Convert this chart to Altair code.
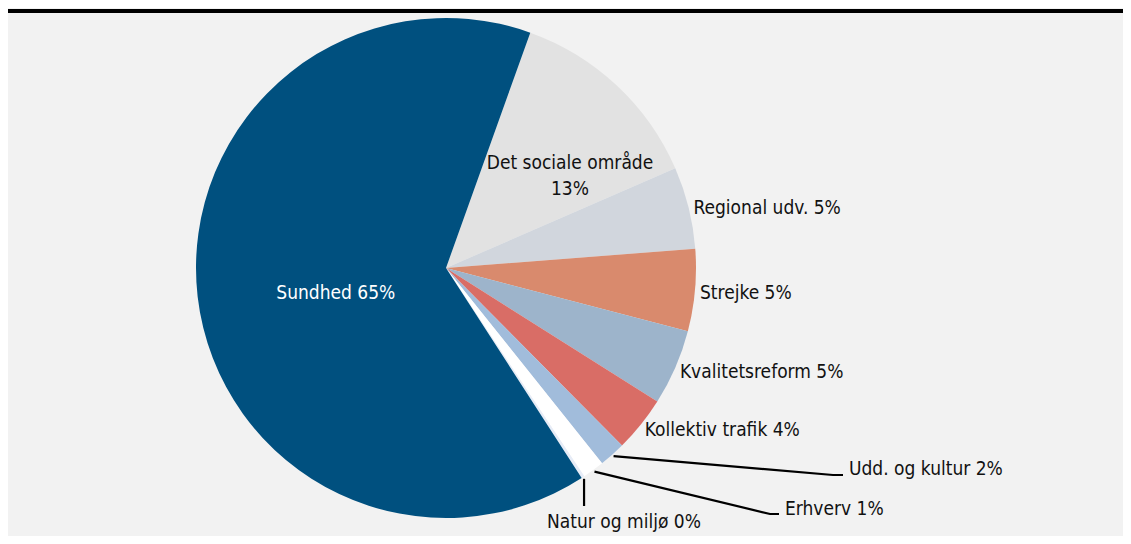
import math
import altair as alt
import pandas as pd

# ---- data ----
names = ["Det sociale område", "Regional udv.", "Strejke", "Kvalitetsreform",
         "Kollektiv trafik", "Udd. og kultur", "Erhverv", "Natur og miljø", "Sundhed"]
shares = [13.0, 5.3, 5.3, 4.9, 3.6, 1.7, 1.4, 0.2, 64.6]
colors = ["#E2E2E2", "#D1D6DD", "#D98A6D", "#9DB4CB", "#D96D66",
          "#A1BCDB", "#FFFFFF", "#E6ECF7", "#00507F"]

# ---- layout ----
W, H = 1115, 528
CX, CY, R = 438, 260, 250
START = math.radians(19.7)
FONT = "DejaVu Sans Condensed, Liberation Sans, sans-serif"
FS = 19
TXT = "#111111"

inner_dark = ["Det sociale område"]
inner_light = ["Sundhed"]
outer = ["Regional udv.", "Strejke", "Kvalitetsreform", "Kollektiv trafik"]
# leader: elbow point, end point, label anchor, label align
leaders = {
    "Udd. og kultur": dict(elbow=(825, 467), end=(835, 467), lab=(841, 467), align="left"),
    "Erhverv": dict(elbow=(762, 506), end=(771, 506), lab=(777, 507), align="left"),
    "Natur og miljø": dict(elbow=None, end=(None, 498), lab=(616, 520), align="center"),
}

# ---- derived table ----
rows = []
cum = 0.0
total = sum(shares)
for i, (n, v) in enumerate(zip(names, shares)):
    s, e = cum, cum + v
    cum = e
    lab = f"{n} {round(v)}%"
    if n == "Det sociale område":
        lab = f"{n}\n{round(v)}%"
    rows.append(dict(name=n, share=v, idx=i, start=s, end=e, mid=(s + e) / 2, label=lab))
df = pd.DataFrame(rows)

theta_scale = alt.Scale(domain=[0, total], range=[START, START + 2 * math.pi])

# leader lines
pts = []
labs = []
for _, r in df.iterrows():
    if r["name"] not in leaders:
        continue
    L = leaders[r["name"]]
    a = START + 2 * math.pi * r["mid"] / total
    x0 = CX + (R + 2) * math.sin(a)
    y0 = CY - (R + 2) * math.cos(a)
    seq = [(x0, y0)]
    if L["elbow"] is not None:
        seq.append(L["elbow"])
    ex, ey = L["end"]
    seq.append((x0 if ex is None else ex, ey))
    for k, (px, py) in enumerate(seq):
        pts.append(dict(name=r["name"], k=k, px=px, py=py))
    labs.append(dict(name=r["name"], label=r["label"], lx=L["lab"][0], ly=L["lab"][1], al=L["align"]))
pts = pd.DataFrame(pts)
labs = pd.DataFrame(labs)

base = alt.Chart(df)

arcs = base.mark_arc(radius=R, stroke=None).encode(
    theta=alt.Theta("start:Q", scale=theta_scale),
    theta2="end:Q",
    color=alt.Color("name:N", scale=alt.Scale(domain=names, range=colors), legend=None),
    x=alt.value(CX), y=alt.value(CY),
)

txt_common = dict(font=FONT, fontSize=FS)

lab_sund = base.transform_filter(alt.FieldOneOfPredicate(field="name", oneOf=inner_light)).mark_text(
    radius=113, thetaOffset=-0.108, color="#ffffff", align="center", baseline="middle", **txt_common
).encode(theta=alt.Theta("mid:Q", scale=theta_scale), text="label:N", x=alt.value(CX), y=alt.value(CY))

lab_soc = base.transform_filter(alt.FieldOneOfPredicate(field="name", oneOf=inner_dark)).mark_text(
    radius=155, thetaOffset=0.175, color=TXT, align="center", baseline="middle",
    lineBreak="\n", lineHeight=26, dy=-12, **txt_common
).encode(theta=alt.Theta("mid:Q", scale=theta_scale), text="label:N", x=alt.value(CX), y=alt.value(CY))

lab_out = base.transform_filter(alt.FieldOneOfPredicate(field="name", oneOf=outer)).mark_text(
    radius=255, color=TXT, align="left", baseline="middle", dy=2, **txt_common
).encode(theta=alt.Theta("mid:Q", scale=theta_scale), text="label:N", x=alt.value(CX), y=alt.value(CY))

lines = alt.Chart(pts).mark_line(color="#000000", strokeWidth=2.2).encode(
    x=alt.X("px:Q", scale=None, axis=None),
    y=alt.Y("py:Q", scale=None, axis=None),
    detail="name:N",
    order="k:Q",
)

lab_lead_left = alt.Chart(labs[labs["al"] == "left"]).mark_text(
    color=TXT, align="left", baseline="alphabetic", **txt_common
).encode(x=alt.X("lx:Q", scale=None), y=alt.Y("ly:Q", scale=None), text="label:N")

lab_lead_center = alt.Chart(labs[labs["al"] == "center"]).mark_text(
    color=TXT, align="center", baseline="alphabetic", **txt_common
).encode(x=alt.X("lx:Q", scale=None), y=alt.Y("ly:Q", scale=None), text="label:N")

top_rule = alt.Chart(pd.DataFrame({"a": [0]})).mark_rule(color="#000000", strokeWidth=4).encode(
    x=alt.value(0), x2=alt.value(W + 20), y=alt.value(3)
)

chart = alt.layer(
    arcs, lines, lab_sund, lab_soc, lab_out, lab_lead_left, lab_lead_center, top_rule
).properties(
    width=W, height=H, background="#f2f2f2", padding=0,
    autosize=alt.AutoSizeParams(type="none"),
).configure_view(stroke=None)

chart.save("out.html", embed_options={"renderer": "svg", "actions": False})
